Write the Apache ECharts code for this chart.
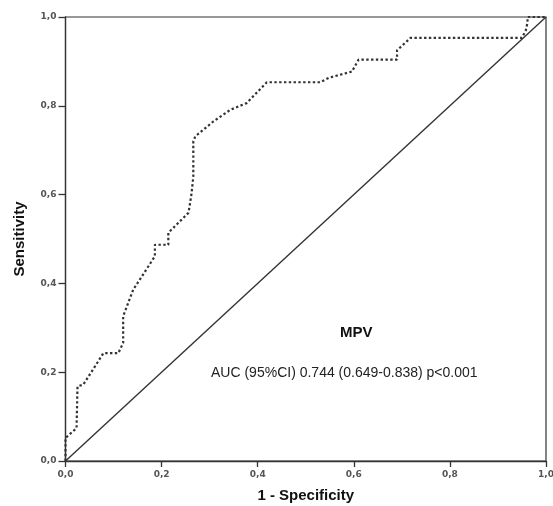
<!DOCTYPE html>
<html>
<head>
<meta charset="utf-8">
<script src="https://cdn.jsdelivr.net/npm/echarts@6/dist/echarts.min.js"></script>
<style>html,body{margin:0;padding:0;background:#fff;}#c{width:553px;height:506px;}</style>
</head>
<body>
<div id="c"></div>
<script>
var fpr = [0, 0, 0.023, 0.025, 0.037, 0.079, 0.11, 0.12, 0.12, 0.141, 0.186, 0.186, 0.214, 0.214, 0.256, 0.262, 0.266, 0.266, 0.27, 0.308, 0.343, 0.377, 0.381, 0.419, 0.53, 0.548, 0.596, 0.61, 0.69, 0.69, 0.718, 0.95, 0.958, 0.961, 0.962, 1.0];
var tpr = [0, 0.052, 0.074, 0.168, 0.172, 0.243, 0.243, 0.266, 0.326, 0.386, 0.461, 0.487, 0.487, 0.514, 0.559, 0.6, 0.64, 0.72, 0.731, 0.765, 0.791, 0.806, 0.806, 0.853, 0.853, 0.863, 0.877, 0.904, 0.904, 0.925, 0.953, 0.953, 0.97, 0.985, 1.0, 1.0];
var refX = [0, 1];
var refY = [0, 1];
var titleText = 'MPV';
var aucText = 'AUC (95%CI) 0.744 (0.649-0.838) p<0.001';
var xName = '1 - Specificity';
var yName = 'Sensitivity';

var roc = fpr.map(function (v, i) { return [v, tpr[i]]; });
var ref = refX.map(function (v, i) { return [v, refY[i]]; });
function fmt(v) { return v.toFixed(1).replace('.', ','); }

var labelStyle = { formatter: fmt, fontFamily: 'DejaVu Sans', fontSize: 9, color: '#555', fontWeight: 'bold' };

var chart = echarts.init(document.getElementById('c'));
chart.setOption({
  animation: false,
  backgroundColor: '#fff',
  grid: { left: 65.5, right: 7, top: 17, bottom: 45, containLabel: false, outerBoundsMode: 'none', show: true, borderColor: '#333', borderWidth: 1.2, backgroundColor: 'transparent' },
  xAxis: {
    type: 'value', min: 0, max: 1, interval: 0.2,
    name: xName, nameLocation: 'middle', nameGap: 27,
    nameTextStyle: { fontFamily: 'Liberation Sans', fontWeight: 'bold', fontSize: 15, color: '#111' },
    axisLine: { show: true, onZero: false, lineStyle: { color: '#333', width: 1.3 } },
    axisTick: { show: true, length: 6, lineStyle: { color: '#333', width: 1.3 } },
    axisLabel: Object.assign({ margin: 9 }, labelStyle),
    splitLine: { show: false }
  },
  yAxis: {
    type: 'value', min: 0, max: 1, interval: 0.2,
    name: yName, nameLocation: 'middle', nameGap: 38, nameRotate: 90,
    nameTextStyle: { fontFamily: 'Liberation Sans', fontWeight: 'bold', fontSize: 15, color: '#111' },
    axisLine: { show: true, onZero: false, lineStyle: { color: '#333', width: 1.3 } },
    axisTick: { show: true, length: 7, lineStyle: { color: '#333', width: 1.3 } },
    axisLabel: Object.assign({ margin: 9 }, labelStyle),
    splitLine: { show: false }
  },
  series: [
    {
      type: 'line', data: ref, symbol: 'none', silent: true,
      lineStyle: { color: '#333', width: 1.4 }
    },
    {
      type: 'line', data: roc, symbol: 'none', silent: true,
      lineStyle: { color: '#333', width: 2.2, type: [2.4, 2.4] }
    }
  ],
  graphic: [
    { type: 'text', left: 340, top: 325, style: { text: titleText, font: 'bold 15px "Liberation Sans"', fill: '#111' } },
    { type: 'text', left: 211, top: 366, style: { text: aucText, font: '14px "Liberation Sans"', fill: '#222' } }
  ]
});
</script>
</body>
</html>
